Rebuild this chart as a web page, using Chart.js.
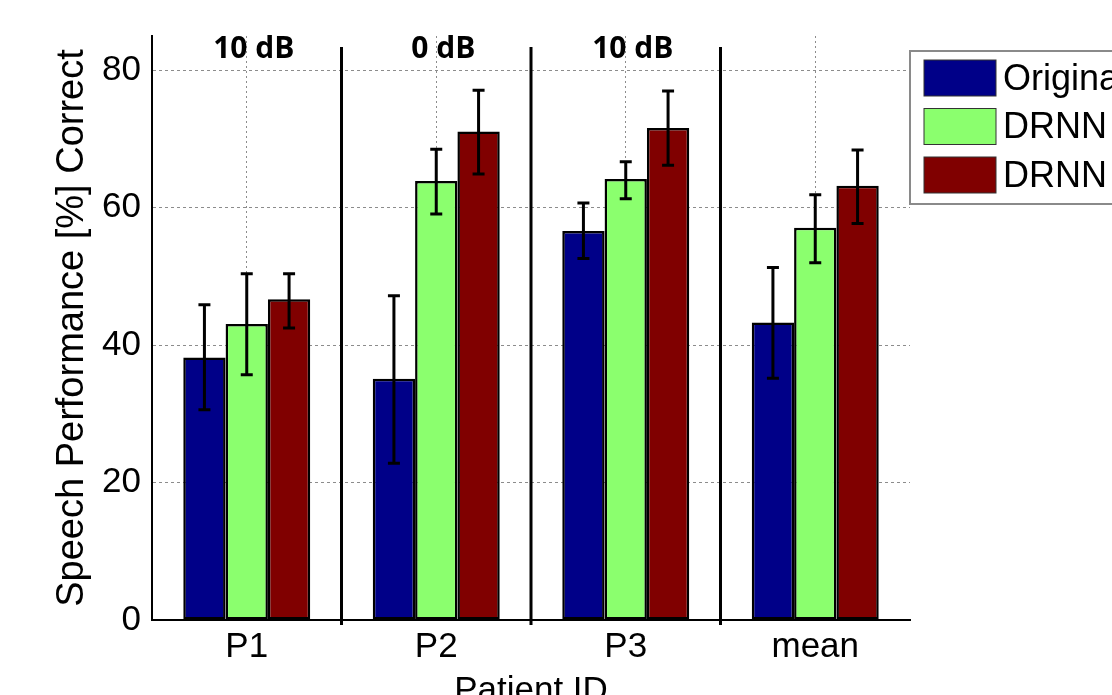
<!DOCTYPE html>
<html>
<head>
<meta charset="utf-8">
<script src="https://cdn.jsdelivr.net/npm/chart.js@4.4.1/dist/chart.umd.min.js"></script>
<style>
  html, body { margin: 0; padding: 0; background: #fff; overflow: hidden; }
  #wrap { width: 1112px; height: 695px; }
</style>
</head>
<body>
<div id="wrap"><canvas id="speechChart" width="1112" height="695"></canvas></div>
<script>
// speech performance per patient
const patients = ['P1', 'P2', 'P3', 'mean'];
const snrLabels = ['10 dB', '0 dB', '10 dB', ''];
const seriesNames = ['Original', 'DRNN 1', 'DRNN 2'];
const seriesColors = ['#000088', '#8bff6e', '#800000'];

const original = [38.2, 35.1, 56.6, 43.3];
const originalLow = [30.6, 22.8, 52.6, 35.2];
const originalHigh = [45.9, 47.2, 60.7, 51.3];

const drnn1 = [43.1, 63.9, 64.2, 57.1];
const drnn1Low = [35.7, 59.1, 61.3, 52.0];
const drnn1High = [50.4, 68.5, 66.7, 61.9];

const drnn2 = [46.7, 71.1, 71.6, 63.2];
const drnn2Low = [42.5, 64.9, 66.2, 57.7];
const drnn2High = [50.4, 77.1, 77.0, 68.4];

const yTicks = [0, 20, 40, 60, 80];

const errLow = [originalLow, drnn1Low, drnn2Low];
const errHigh = [originalHigh, drnn1High, drnn2High];

const FONT = "'Liberation Sans', Arial, sans-serif";

// error bars, group separators and the dB labels on top
const extrasPlugin = {
    id: 'extras',
    afterDatasetsDraw(chart) {
        const ctx = chart.ctx;
        const xs = chart.scales.x;
        const ys = chart.scales.y;
        const area = chart.chartArea;
        ctx.save();

        // error bars
        ctx.strokeStyle = '#000';
        ctx.lineWidth = 3;
        chart.data.datasets.forEach((ds, di) => {
            const meta = chart.getDatasetMeta(di);
            meta.data.forEach((bar, i) => {
                const x = bar.x;
                const yLo = ys.getPixelForValue(errLow[di][i]);
                const yHi = ys.getPixelForValue(errHigh[di][i]);
                ctx.beginPath();
                ctx.moveTo(x, yLo); ctx.lineTo(x, yHi);
                ctx.moveTo(x - 6, yLo); ctx.lineTo(x + 6, yLo);
                ctx.moveTo(x - 6, yHi); ctx.lineTo(x + 6, yHi);
                ctx.stroke();
            });
        });

        // separators between the patients
        ctx.lineWidth = 3;
        for (let i = 0; i < patients.length - 1; i++) {
            const xb = (xs.getPixelForValue(i) + xs.getPixelForValue(i + 1)) / 2;
            ctx.beginPath();
            ctx.moveTo(xb, area.top + 11);
            ctx.lineTo(xb, area.bottom + 5);
            ctx.stroke();
        }

        // SNR labels
        ctx.fillStyle = '#000';
        ctx.font = "bold 30px 'Open Sans', " + FONT;
        ctx.textAlign = 'center';
        ctx.textBaseline = 'middle';
        snrLabels.forEach((t, i) => {
            if (t) ctx.fillText(t, xs.getPixelForValue(i) + 7, area.top + 13);
        });
        ctx.restore();
    },
    afterDraw(chart) {
        // legend box, cut off by the right edge like the figure
        const ctx = chart.ctx;
        const left = chart.chartArea.right;
        const top = 51;
        ctx.save();
        ctx.fillStyle = '#fff';
        ctx.fillRect(left, top, 300, 153);
        ctx.strokeStyle = '#8a8a8a';
        ctx.lineWidth = 2;
        ctx.strokeRect(left, top, 300, 153);
        ctx.font = '36px ' + FONT;
        ctx.textAlign = 'left';
        ctx.textBaseline = 'middle';
        seriesNames.forEach((name, i) => {
            const y = top + 9 + i * 48.5;
            ctx.fillStyle = seriesColors[i];
            ctx.fillRect(left + 14, y, 72, 36);
            ctx.strokeStyle = '#333';
            ctx.lineWidth = 1;
            ctx.strokeRect(left + 14, y, 72, 36);
            ctx.fillStyle = '#000';
            ctx.fillText(name, left + 93, y + 20);
        });
        ctx.restore();
    }
};

const ctx = document.getElementById('speechChart').getContext('2d');
new Chart(ctx, {
    type: 'bar',
    data: {
        labels: patients,
        datasets: [original, drnn1, drnn2].map((vals, i) => ({
            label: seriesNames[i],
            data: vals,
            backgroundColor: seriesColors[i],
            borderColor: '#000',
            borderWidth: 2.5,
            borderSkipped: false,
            categoryPercentage: 0.67,
            barPercentage: 1.0
        }))
    },
    options: {
        responsive: false,
        animation: false,
        layout: { padding: { top: 36, right: 202, left: 0, bottom: 0 } },
        plugins: {
            legend: { display: false },
            tooltip: { enabled: false }
        },
        scales: {
            x: {
                offset: true,
                grid: { offset: false, color: '#8c8c8c', drawTicks: false },
                border: { color: '#000', width: 2, dash: [2, 3] },
                ticks: { color: '#000', font: { family: FONT, size: 35 }, padding: 6 },
                title: {
                    display: true, text: 'Patient ID', color: '#000',
                    font: { family: FONT, size: 35 }, padding: { top: 0, bottom: -17 }
                },
                afterFit(scale) { scale.height = 75; }
            },
            y: {
                min: 0,
                max: 85,
                afterBuildTicks(scale) { scale.ticks = yTicks.map(v => ({ value: v })); },
                grid: { color: '#8c8c8c', drawTicks: false },
                border: { color: '#000', width: 2, dash: [3, 3] },
                ticks: { color: '#000', font: { family: FONT, size: 35 }, padding: 11 },
                title: {
                    display: true, text: 'Speech Performance [%] Correct', color: '#000',
                    font: { family: FONT, size: 38 }, padding: { top: 50, bottom: 0 }
                },
                afterFit(scale) { scale.width = 152; }
            }
        }
    },
    plugins: [extrasPlugin]
});
</script>
</body>
</html>
